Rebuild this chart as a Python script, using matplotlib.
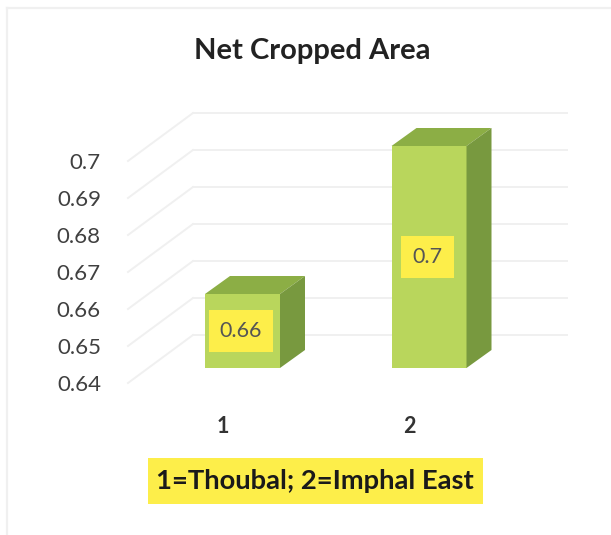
import numpy as np
import matplotlib
matplotlib.use("Agg")
import matplotlib.pyplot as plt
from matplotlib.patches import Polygon, Rectangle

# values
categories = [1, 2]
values = [0.66, 0.7]
value_labels = ["0.66", "0.7"]
y_ticks = [0.64, 0.65, 0.66, 0.67, 0.68, 0.69, 0.7]
y_tick_labels = ["0.64", "0.65", "0.66", "0.67", "0.68", "0.69", "0.7"]

W, H = 611, 535
plt.rcParams['font.family'] = ['Lato', 'DejaVu Sans']

fig = plt.figure(figsize=(W / 100, H / 100), dpi=100)
left, right, bottom, top = 128, 567, 383, 161
ax = fig.add_axes([left / W, 1 - bottom / H, (right - left) / W, (bottom - top) / H])

px_x = 186.5           # pixels per category
px_y = 37 / 0.01       # pixels per unit of value
ax.set_xlim(1 - (222.5 - left) / px_x, 1 + (right - 222.5) / px_x)
ax.set_ylim(0.64, 0.7)
base = 0.64

def dx(p):
    return p / px_x

def dy(p):
    return p / px_y

# back wall and side wall gridlines
x0 = ax.get_xlim()[0]
x1 = ax.get_xlim()[1]
for v in y_ticks:
    ax.plot([x0, x0 + dx(65)], [v, v + dy(48)], color='#f0f0f0', lw=1.4, clip_on=False, zorder=1)
    ax.plot([x0 + dx(65), x1], [v + dy(48), v + dy(48)], color='#f0f0f0', lw=1.4, clip_on=False, zorder=1)

# bars sit part way into the depth
shift_x, shift_y = dx(20), dy(15)
depth_x, depth_y = dx(25), dy(18)
bar_w = 75 / px_x

ax.bar(np.array(categories) + shift_x, np.array(values) - base, width=bar_w,
       bottom=base + shift_y, color='#b9d65c', clip_on=False, zorder=3)

for c, v, lab in zip(categories, values, value_labels):
    l = c + shift_x - bar_w / 2
    r = c + shift_x + bar_w / 2
    b = base + shift_y
    t = v + shift_y
    ax.add_patch(Polygon([(l, t), (r, t), (r + depth_x, t + depth_y), (l + depth_x, t + depth_y)],
                         closed=True, fc='#8cae45', ec='none', clip_on=False, zorder=3))
    ax.add_patch(Polygon([(r, b), (r + depth_x, b + depth_y), (r + depth_x, t + depth_y), (r, t)],
                         closed=True, fc='#78993f', ec='none', clip_on=False, zorder=3))
    ax.text(c + shift_x - dx(1.5), (base + v) / 2 + shift_y, lab, ha='center', va='center',
            fontsize=15.5, color='#555555', zorder=5,
            bbox=dict(boxstyle='square,pad=0.52', fc='#fdee4a', ec='none'))

ax.set_xticks(categories)
ax.set_xticklabels([str(c) for c in categories], fontweight='bold')
ax.set_yticks(y_ticks)
ax.set_yticklabels(y_tick_labels)
ax.tick_params(axis='y', length=0, pad=19.5, labelsize=16, labelcolor='#404040')
ax.tick_params(axis='x', length=0, pad=23.5, labelsize=15.5, labelcolor='#333333')
for s in ax.spines.values():
    s.set_visible(False)
ax.patch.set_alpha(0)

fig.text(312.5 / W, 1 - 51 / H, "Net Cropped Area", ha='center', va='center',
         fontsize=21, fontweight='bold', color='#222222')

# yellow note under the chart
fig.add_artist(Rectangle((148 / W, 1 - 504 / H), 335 / W, 46 / H, transform=fig.transFigure,
                         fc='#fdee4a', ec='none'))
fig.text(314.5 / W, 1 - 481 / H, "1=Thoubal; 2=Imphal East", ha='center', va='center',
         fontsize=19.7, fontweight='bold', color='#1a1a1a')

# faint frame of the pasted chart
fig.add_artist(plt.Line2D([7 / W, 7 / W], [0, 1 - 8 / H], color='#f0f0f0', lw=1.6))
fig.add_artist(plt.Line2D([7 / W, 1], [1 - 8 / H, 1 - 8 / H], color='#f0f0f0', lw=1.6))

fig.savefig("out.png", dpi=100)
